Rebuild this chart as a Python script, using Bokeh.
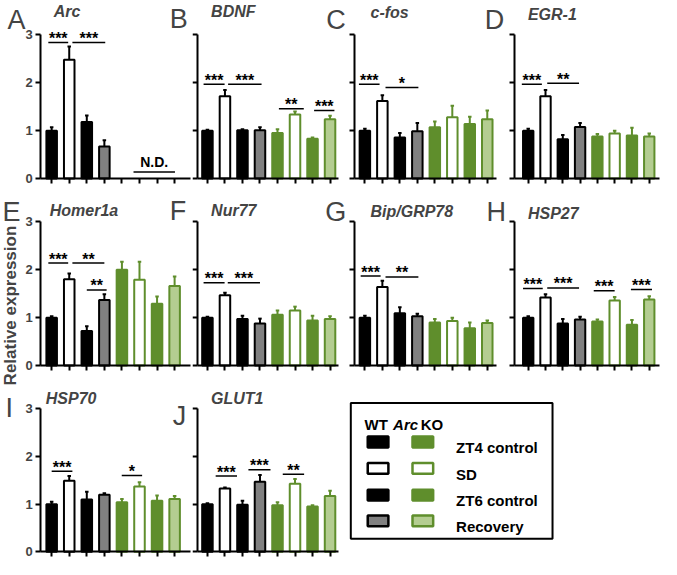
import math
from bokeh.plotting import figure
from bokeh.models import Range1d, FixedTicker, Label, ColumnDataSource
from bokeh.layouts import row, column
from bokeh.embed import file_html
from bokeh.resources import INLINE
from bokeh.core.properties import value

# ---------------- data ----------------
genes = ["Arc", "BDNF", "c-fos", "EGR-1", "Homer1a", "Nur77", "Bip/GRP78", "HSP27", "HSP70", "GLUT1"]
panel_letters = ["A", "B", "C", "D", "E", "F", "G", "H", "I", "J"]
conditions = ["ZT4 control", "SD", "ZT6 control", "Recovery"]
header_words = ["WT", "Arc", "KO"]
y_title = "Relative expression"
nd_text = "N.D."
x_ticks = [1, 2, 3, 4, 5, 6, 7, 8]
y_ticks = [0, 1, 2, 3]

# bar order: WT ZT4, WT SD, WT ZT6, WT Recovery, KO ZT4, KO SD, KO ZT6, KO Recovery
arc_mean = [1.00, 2.48, 1.18, 0.67]
arc_err = [0.07, 0.28, 0.14, 0.13]
bdnf_mean = [1.00, 1.72, 1.01, 1.01, 0.95, 1.34, 0.83, 1.24]
bdnf_err = [0.02, 0.13, 0.02, 0.06, 0.08, 0.06, 0.03, 0.07]
cfos_mean = [1.00, 1.62, 0.86, 0.99, 1.07, 1.28, 1.14, 1.24]
cfos_err = [0.04, 0.12, 0.09, 0.17, 0.12, 0.24, 0.15, 0.18]
egr1_mean = [1.00, 1.72, 0.82, 1.08, 0.88, 0.94, 0.90, 0.88]
egr1_err = [0.04, 0.13, 0.09, 0.08, 0.05, 0.06, 0.16, 0.06]
homer_mean = [1.00, 1.80, 0.72, 1.37, 2.00, 1.79, 1.29, 1.66]
homer_err = [0.03, 0.12, 0.10, 0.12, 0.17, 0.38, 0.15, 0.20]
nur77_mean = [1.00, 1.47, 0.97, 0.88, 1.06, 1.15, 0.94, 0.97]
nur77_err = [0.02, 0.05, 0.07, 0.10, 0.09, 0.08, 0.10, 0.06]
bip_mean = [1.00, 1.64, 1.09, 1.03, 0.90, 0.93, 0.78, 0.89]
bip_err = [0.04, 0.13, 0.13, 0.05, 0.07, 0.07, 0.12, 0.05]
hsp27_mean = [1.00, 1.42, 0.88, 0.96, 0.92, 1.36, 0.85, 1.38]
hsp27_err = [0.03, 0.07, 0.09, 0.06, 0.04, 0.07, 0.10, 0.07]
hsp70_mean = [1.00, 1.49, 1.10, 1.20, 1.04, 1.37, 1.07, 1.11]
hsp70_err = [0.05, 0.10, 0.16, 0.03, 0.07, 0.09, 0.11, 0.06]
glut1_mean = [1.00, 1.33, 0.99, 1.47, 0.98, 1.43, 0.95, 1.17]
glut1_err = [0.02, 0.02, 0.08, 0.14, 0.06, 0.10, 0.03, 0.11]

# significance brackets: (from x, to x, level, label)
arc_sig = [(0.81, 1.94, 2.84, "***"), (2.18, 4.05, 2.84, "***")]
bdnf_sig = [(0.78, 1.98, 1.97, "***"), (2.18, 4.09, 1.97, "***"), (5.08, 6.50, 1.46, "**"), (7.09, 8.25, 1.42, "***")]
cfos_sig = [(0.66, 1.84, 1.97, "***"), (2.18, 4.06, 1.90, "*")]
egr1_sig = [(0.63, 1.79, 1.97, "***"), (2.10, 3.94, 1.99, "**")]
homer_sig = [(0.81, 1.94, 2.14, "***"), (2.18, 4.00, 2.14, "**"), (3.00, 4.13, 1.58, "**")]
nur77_sig = [(0.78, 1.98, 1.73, "***"), (2.16, 4.00, 1.73, "***")]
bip_sig = [(0.76, 1.90, 1.87, "***"), (2.18, 4.06, 1.85, "**")]
hsp27_sig = [(0.70, 1.84, 1.61, "***"), (2.10, 3.94, 1.62, "***"), (4.79, 6.00, 1.56, "***"), (6.94, 8.16, 1.59, "***")]
hsp70_sig = [(1.00, 2.18, 1.69, "***"), (4.99, 6.15, 1.60, "*")]
glut1_sig = [(1.47, 2.69, 1.59, "***"), (3.34, 4.60, 1.72, "***"), (5.30, 6.52, 1.63, "**")]
arc_nd = (5.66, 8.02, 0.14)

# ---------------- styles ----------------
GREEN = "#5f8e2c"
LIGHT = "#b4cd91"
GRAY = "#808080"
bar_fill = ["black", "white", "black", GRAY, GREEN, "white", GREEN, LIGHT]
bar_line = ["black"] * 4 + [GREEN] * 4
FONT = "Liberation Sans"

S = 0.984


def cx(r):
    return int(round((r - 3) * S))


def cy(r):
    return int(round((r - 4) * S))


COLS = [
    dict(cell=(3, 198), axis=44.0, end=196.0, tick1=55.0, sp=17.85),
    dict(cell=(198, 357), axis=203.3, end=347.0, tick1=213.3, sp=17.8),
    dict(cell=(357, 519), axis=362.5, end=507.0, tick1=373.3, sp=17.77),
    dict(cell=(519, 675), axis=525.0, end=673.0, tick1=539.3, sp=17.57),
]
YAX = [(185.0, 39.0), (375.0, 229.0), (564.3, 419.0)]


def build(col, cell_y, yax, mean, err, sig, gene, title_xy, letters=(), nd=None, ylab=False):
    c = COLS[col]
    L, R = c["cell"]
    T, B = cell_y
    y0, y3 = yax
    W = cx(R) - cx(L)
    H = cy(B) - cy(T)
    sp, t1 = c["sp"], c["tick1"]
    uy = (y0 - y3) / 3.0

    def fx(r):
        return 1 + (r - t1) / sp

    def fy(r):
        return (y0 - r) / uy

    xs = fx(3 + cx(L) / S)
    xe = fx(3 + cx(R) / S)
    yt = fy(4 + cy(T) / S)
    yb = fy(4 + cy(B) / S)

    p = figure(width=W, height=H, x_range=Range1d(xs, xe), y_range=Range1d(yb, yt),
               output_backend="svg", toolbar_location=None, title_location=None,
               min_border=0, min_border_left=0, min_border_right=0, min_border_top=0,
               min_border_bottom=0, outline_line_color=None)
    p.xgrid.visible = False
    p.ygrid.visible = False
    ax_x = fx(c["axis"])
    p.xaxis.ticker = FixedTicker(ticks=x_ticks)
    p.yaxis.ticker = FixedTicker(ticks=y_ticks)
    p.xaxis.fixed_location = 0
    p.yaxis.fixed_location = ax_x
    p.xaxis.bounds = (ax_x, fx(c["end"]))
    p.yaxis.bounds = (0, 3)
    for ax in (p.xaxis, p.yaxis):
        ax.axis_line_width = 2
        ax.major_tick_line_width = 2
        ax.major_tick_out = 5
        ax.major_tick_in = 0
        ax.minor_tick_out = 0
        ax.minor_tick_in = 0
    p.xaxis.major_label_overrides = {t: "" for t in x_ticks}
    p.xaxis.major_label_standoff = 0
    if col == 0:
        p.yaxis.major_label_text_font_size = "13px"
        p.yaxis.major_label_text_font = FONT
        p.yaxis.major_label_text_font_style = "bold"
        p.yaxis.major_label_standoff = 3
    else:
        p.yaxis.major_label_overrides = {t: "" for t in y_ticks}
        p.yaxis.major_label_standoff = 0

    n = len(mean)
    xb = x_ticks[:n]
    tops = [m + e for m, e in zip(mean, err)]
    src = ColumnDataSource(dict(x=xb, top=mean, etop=tops,
                                cl=[v - 0.1 for v in xb], cr=[v + 0.1 for v in xb],
                                fill=bar_fill[:n], line=bar_line[:n]))
    p.segment(x0="x", y0="top", x1="x", y1="etop", line_color="line", line_width=2, source=src)
    p.segment(x0="cl", y0="etop", x1="cr", y1="etop", line_color="line", line_width=2, source=src)
    p.vbar(x="x", width=0.6, top="top", bottom=0, fill_color="fill", line_color="line",
           line_width=2, source=src)

    if sig:
        ssrc = ColumnDataSource(dict(x0=[s[0] for s in sig], x1=[s[1] for s in sig],
                                     y=[s[2] for s in sig], xm=[(s[0] + s[1]) / 2 for s in sig],
                                     t=[s[3] for s in sig]))
        p.segment(x0="x0", y0="y", x1="x1", y1="y", line_color="black", line_width=1.5, source=ssrc)
        p.text(x="xm", y="y", text="t", text_align="center", text_baseline="alphabetic",
               text_font=value(FONT), text_font_style="bold", text_font_size="16px",
               y_offset=-4, source=ssrc)
    if nd is not None:
        p.segment(x0=[nd[0]], y0=[nd[2]], x1=[nd[1]], y1=[nd[2]], line_color="black", line_width=1.5)
        p.text(x=[(nd[0] + nd[1]) / 2], y=[nd[2]], text=[nd_text], text_align="center",
               text_baseline="alphabetic", text_font=value(FONT), text_font_style="bold",
               text_font_size="14px", y_offset=-10)

    p.add_layout(Label(x=fx(title_xy[0]), y=fy(title_xy[1]), text=gene, text_font=FONT,
                       text_font_style="bold italic", text_font_size="16px",
                       text_align="left", text_baseline="alphabetic"))
    for (lt, lx, ly) in letters:
        p.add_layout(Label(x=fx(lx), y=fy(ly - 4), text=lt, text_font=FONT, text_font_size="27px",
                           text_align="left", text_baseline="alphabetic"))
    if ylab:
        p.add_layout(Label(x=fx(13.5), y=fy(314), text=y_title, angle=math.pi / 2,
                           text_font=FONT, text_font_style="bold", text_font_size="17px",
                           text_align="center", text_baseline="middle"))
    return p


R1 = (4, 193)
R2a, R3a = (193, 400), (400, 572)
R2b, R3b = (193, 396), (396, 572)

pA = build(0, R1, YAX[0], arc_mean, arc_err, arc_sig, genes[0], (57, 15),
           letters=[(panel_letters[0], 10, 28), (panel_letters[1], 175, 27)], nd=arc_nd)
pB = build(1, R1, YAX[0], bdnf_mean, bdnf_err, bdnf_sig, genes[1], (217, 15),
           letters=[(panel_letters[2], 334, 28)])
pC = build(2, R1, YAX[0], cfos_mean, cfos_err, cfos_sig, genes[2], (379, 16),
           letters=[(panel_letters[3], 495, 28)])
pD = build(3, R1, YAX[0], egr1_mean, egr1_err, egr1_sig, genes[3], (539, 18))

pE = build(0, R2a, YAX[1], homer_mean, homer_err, homer_sig, genes[4], (53, 217),
           letters=[(panel_letters[4], 5, 223), (panel_letters[5], 175, 222)], ylab=True)
pF = build(1, R2b, YAX[1], nur77_mean, nur77_err, nur77_sig, genes[5], (217, 217),
           letters=[(panel_letters[6], 333, 223)])
pG = build(2, R2b, YAX[1], bip_mean, bip_err, bip_sig, genes[6], (379, 218),
           letters=[(panel_letters[7], 497, 223)])
pH = build(3, R2b, YAX[1], hsp27_mean, hsp27_err, hsp27_sig, genes[7], (539, 220))

pI = build(0, R3a, YAX[2], hsp70_mean, hsp70_err, hsp70_sig, genes[8], (49, 408),
           letters=[(panel_letters[8], 8, 422), (panel_letters[9], 178, 430)])
pJ = build(1, R3b, YAX[2], glut1_mean, glut1_err, glut1_sig, genes[9], (217, 408))

# ---------------- legend panel ----------------
LW = cx(675) - cx(357)
LH = cy(572) - cy(396)
leg = figure(width=LW, height=LH,
             x_range=Range1d(3 + cx(357) / S, 3 + cx(675) / S),
             y_range=Range1d(4 + cy(572) / S, 4 + cy(396) / S),
             x_axis_type=None, y_axis_type=None, output_backend="svg", toolbar_location=None,
             title_location=None, min_border=0, outline_line_color=None)
leg.xgrid.visible = False
leg.ygrid.visible = False
leg.quad(left=[359], right=[564], top=[413], bottom=[551], fill_color=None,
         line_color="black", line_width=2)
row_y = [452.7, 479.5, 506.7, 532.8]
wt_src = ColumnDataSource(dict(x=[386.7] * 4, y=row_y, fill=bar_fill[:4], line=bar_line[:4]))
ko_src = ColumnDataSource(dict(x=[432.2] * 4, y=row_y, fill=bar_fill[4:], line=bar_line[4:]))
for s in (wt_src, ko_src):
    leg.rect(x="x", y="y", width=21, height=11, fill_color="fill", line_color="line",
             line_width=2.5, source=s)
leg.text(x=[466] * 4, y=[v + 5.8 for v in row_y], text=conditions, text_align="left",
         text_baseline="alphabetic", text_font=value(FONT), text_font_style="bold",
         text_font_size="15px")
leg.text(x=[373, 430], y=[435, 435], text=[header_words[0], header_words[2]], text_align="left",
         text_baseline="alphabetic", text_font=value(FONT), text_font_style="bold",
         text_font_size="15px")
leg.text(x=[402], y=[435], text=[header_words[1]], text_align="left",
         text_baseline="alphabetic", text_font=value(FONT), text_font_style="bold italic",
         text_font_size="15px")

colA = column(pA, pE, pI)
rest = column(row(pB, pC, pD), row(pF, pG, pH), row(pJ, leg))
layout = row(colA, rest)

open("out.html", "w").write(file_html(layout, INLINE, title="Relative expression"))
